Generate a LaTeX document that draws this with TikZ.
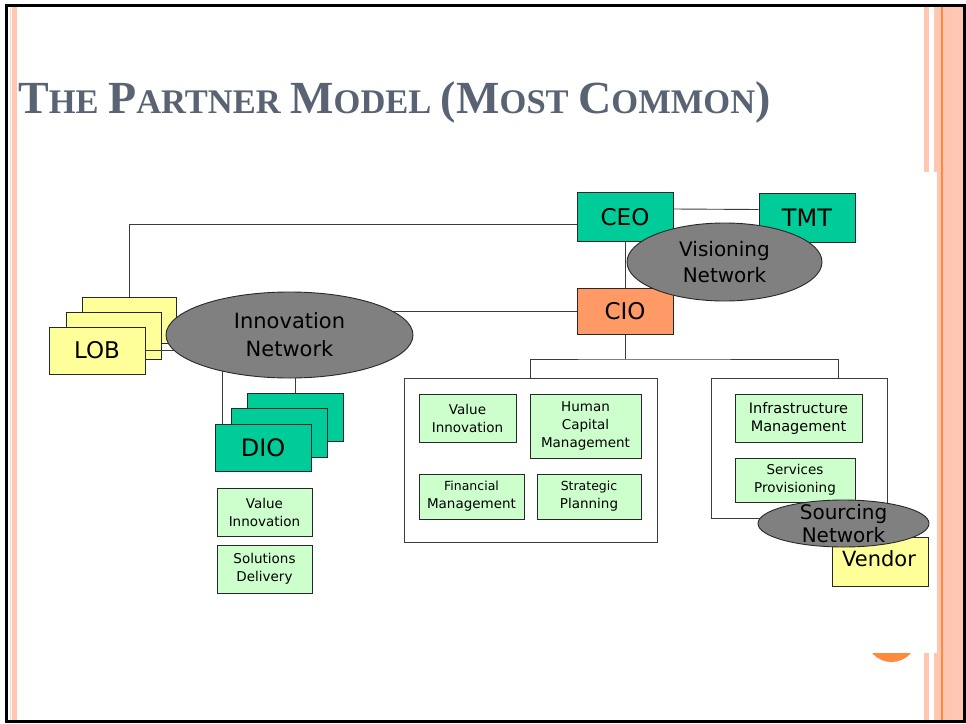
\documentclass[tikz,border=0pt]{standalone}
\usepackage{fontspec}
\setmainfont{DejaVu Sans}
\newfontfamily\titlefont{Liberation Serif}
\usetikzlibrary{shapes.geometric}
\pgfdeclarelayer{back}
\pgfdeclarelayer{conn}
\pgfsetlayers{back,conn,main}
\definecolor{cTeal}{RGB}{0,204,153}
\definecolor{cSalmon}{RGB}{255,153,102}
\definecolor{cYellow}{RGB}{255,255,153}
\definecolor{cLight}{RGB}{204,255,204}
\definecolor{cGray}{RGB}{128,128,128}
\definecolor{cLine}{RGB}{40,40,40}
\definecolor{cConn}{RGB}{60,60,60}
\definecolor{cPink}{RGB}{255,198,178}
\definecolor{cOrange}{RGB}{255,138,61}
\definecolor{cTitle}{RGB}{89,99,115}
\newcommand\tbig[1]{{\fontsize{46}{46}\selectfont #1}}
\newcommand\tsm[1]{{\fontsize{34.5}{34.5}\selectfont #1}}
\begin{document}
\begin{tikzpicture}[x=1pt,y=-1pt,
  bigbox/.style={rectangle, draw=cLine, line width=0.9pt, inner sep=0pt, font=\fontsize{23}{26}\selectfont},
  smallbox/.style={rectangle, draw=cLine, fill=cLight, line width=0.9pt, inner sep=0pt, align=center, font=\fontsize{13.5}{18}\selectfont},
  net/.style={ellipse, draw=cLine, fill=cGray, line width=0.9pt, inner sep=0pt, align=center, font=\fontsize{20}{26}\selectfont},
  container/.style={rectangle, draw=cConn, fill=white, line width=0.9pt, inner sep=0pt},
  link/.style={draw=cConn, line width=0.9pt}
]
\useasboundingbox (0,0) rectangle (966,723);

% title
\node[anchor=base west, inner sep=0pt, text=cTitle, font=\titlefont\bfseries\fontsize{38}{40}\selectfont] (title) at (18,113)
  {\tbig{T}\tsm{HE} \tbig{P}\tsm{ARTNER} \tbig{M}\tsm{ODEL} \tbig{(M}\tsm{OST} \tbig{C}\tsm{OMMON}\tbig{)}};

% LOB stack
\node[bigbox, fill=cYellow, minimum width=94pt, minimum height=46pt] (lobA) at (129,320) {};
\node[bigbox, fill=cYellow, minimum width=95pt, minimum height=47pt] (lobB) at (113.5,335.5) {};
\node[bigbox, fill=cYellow, minimum width=96pt, minimum height=47pt] (lob) at (97,350.5) {LOB};

% Innovation network
\node[net, minimum width=247pt, minimum height=86pt, font=\fontsize{21}{28}\selectfont] (inn) at (289.5,335) {Innovation\\Network};
\draw[link] (lob.east) -- (lob.east -| inn.188);

% DIO stack
\node[bigbox, fill=cTeal, minimum width=96pt, minimum height=48pt] (dioA) at (295,417) {};
\node[bigbox, fill=cTeal, minimum width=96pt, minimum height=49pt] (dioB) at (279,432.5) {};
\node[bigbox, fill=cTeal, minimum width=96pt, minimum height=47pt, font=\fontsize{24}{26}\selectfont] (dio) at (263,447.5) {DIO};
\node[smallbox, minimum width=95pt, minimum height=48pt] (dvi) at (264.5,512) {Value\\Innovation};
\node[smallbox, minimum width=95pt, minimum height=48pt] (dsd) at (264.5,569) {Solutions\\Delivery};

% CEO / TMT / CIO
\node[bigbox, fill=cTeal, minimum width=96pt, minimum height=49pt] (ceo) at (625,217) {CEO};
\node[bigbox, fill=cTeal, minimum width=96pt, minimum height=49pt, font=\fontsize{24}{26}\selectfont] (tmt) at (807,217.5) {TMT};
\node[bigbox, fill=cSalmon, minimum width=96pt, minimum height=46pt] (cio) at (625,311) {CIO};
\node[net, minimum width=195pt, minimum height=78pt] (vis) at (724.5,262) {Visioning\\Network};

% middle container
\node[container, minimum width=253pt, minimum height=164pt] (midbox) at (530.5,460) {};
\node[smallbox, minimum width=97pt, minimum height=48pt] (mvi) at (467.5,418) {Value\\Innovation};
\node[smallbox, minimum width=111pt, minimum height=64pt] (mhc) at (585.5,426) {Human\\Capital\\Management};
\node[smallbox, minimum width=105pt, minimum height=45pt] (mfm) at (471.5,496.5) {{\fontsize{12.5}{15}\selectfont Financial}\\Management};
\node[smallbox, minimum width=104pt, minimum height=45pt] (msp) at (589,496.5) {{\fontsize{12.5}{15}\selectfont Strategic}\\Planning};

% right container
\node[container, minimum width=176pt, minimum height=140pt] (rightbox) at (799,448) {};
\node[smallbox, minimum width=127pt, minimum height=48pt, font=\fontsize{14.5}{18}\selectfont] (rim) at (798.5,418) {Infrastructure\\Management};
\node[smallbox, minimum width=120pt, minimum height=44pt, font=\fontsize{13.5}{18}\selectfont] (rsp) at (795,480) {Services\\Provisioning};
\node[bigbox, fill=cYellow, minimum width=96pt, minimum height=49pt] (vendor) at (880,561.5) {};
\node[net, minimum width=171pt, minimum height=47pt] (src) at (843.5,523.5) {};
\node[inner sep=0pt, font=\fontsize{21}{24}\selectfont] (vendortext) at (879,559) {Vendor};
\node[inner sep=0pt, align=center, font=\fontsize{20}{23}\selectfont] (srctext) at (src) {Sourcing\\Network};

% connectors
\begin{pgfonlayer}{conn}
\coordinate (tj) at (625,359);
\draw[link] ([yshift=8pt]ceo.east) -- ([yshift=8pt]tmt.west);
\draw[link] (ceo) -- (cio);
\draw[link] ([yshift=-7pt]ceo.west) -| (lobA.north);
\draw[link] (cio.west) -- (cio.west -| inn.center);
\draw[link] ([xshift=8pt]dio.north west) -- ([xshift=8pt]dio.north west |- inn.center);
\draw[link] (dioA.north) -- (dioA.north |- inn.center);
\draw[link] (cio.south) -- (tj);
\draw[link] (midbox.north) |- (tj) -| ([xshift=39pt]rightbox.north);
\end{pgfonlayer}

% page decoration
\begin{pgfonlayer}{back}
\fill[white] (0,0) rectangle (966,723);
\fill[cPink!70] (10,5) rectangle (11,721);
\fill[cPink] (12,5) rectangle (17,721);
\fill[cPink] (924,5) rectangle (929,721);
\fill[cPink] (934,5) rectangle (941,721);
\fill[cOrange] (941,5) rectangle (943,721);
\fill[cPink] (943,5) rectangle (963,721);
\fill[cOrange] (891.5,636.5) circle (25.5pt);
\fill[white] (845,172) rectangle (937,653);
\draw[line width=2.6pt] (6.3,5.2) rectangle (964.5,721.7);
\end{pgfonlayer}
\end{tikzpicture}
\end{document}
